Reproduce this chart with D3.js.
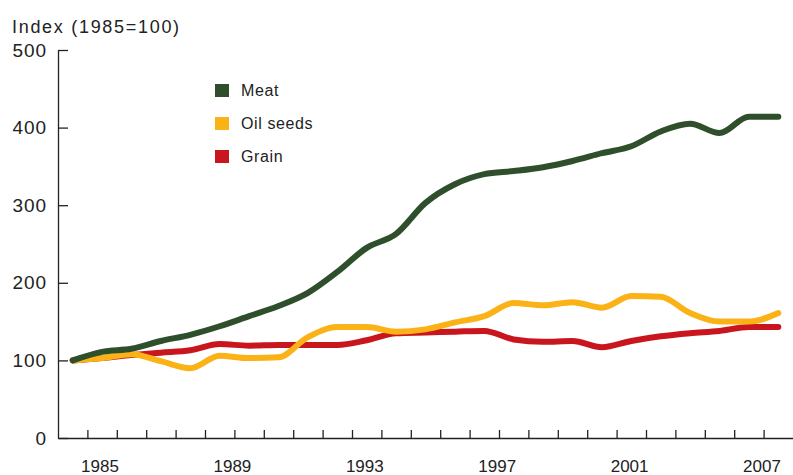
<!DOCTYPE html>
<html>
<head>
<meta charset="utf-8">
<script src="https://cdn.jsdelivr.net/npm/d3@7/dist/d3.min.js"></script>
<style>
  body { margin: 0; background: #fff; }
  svg { display: block; font-family: "Liberation Sans", Arial, sans-serif; }
</style>
</head>
<body>
<svg id="chart" width="793" height="475"></svg>
<script>
// annual index values, 1985 = 100
var years = [1984, 1985, 1986, 1987, 1988, 1989, 1990, 1991, 1992, 1993, 1994, 1995,
             1996, 1997, 1998, 1999, 2000, 2001, 2002, 2003, 2004, 2005, 2006, 2007, 2008];
var meat = [100, 111, 115, 125, 133, 144, 157, 170, 187, 214, 245, 263,
            303, 327, 340, 344, 349, 357, 367, 376, 395, 405, 393, 414, 414];
var oilSeeds = [100, 103, 108, 99, 90, 106, 103, 104, 130, 143, 143, 137,
                140, 149, 157, 174, 171, 175, 168, 183, 182, 161, 150, 150, 161];
var grain = [100, 103, 107, 110, 113, 121, 119, 120, 120, 120, 126, 135,
             136, 137, 138, 127, 124, 125, 117, 125, 131, 135, 138, 143, 143];

var yearLabels = ["1985", "1989", "1993", "1997", "2001", "2007"];
var yTicks = [0, 100, 200, 300, 400, 500];
var seriesNames = ["Meat", "Oil seeds", "Grain"];
var seriesColors = ["#2f4f2c", "#fbb216", "#c9161e"];

(function chart() {
    var svg = d3.select("#chart"),
        margin = {top: 50, right: 0, bottom: 37, left: 58},
        width = +svg.attr("width") - margin.left - margin.right,
        height = +svg.attr("height") - margin.top - margin.bottom,
        g = svg.append("g").attr("transform", "translate(" + margin.left + "," + margin.top + ")");

    var x = d3.scaleBand()
        .domain(years)
        .range([0, width]);

    // year boundaries, used for the tick marks between the points
    var xEdge = d3.scaleLinear()
        .domain([years[0] - 0.5, years[years.length - 1] + 0.5])
        .range([0, width]);

    var xLabel = d3.scalePoint()
        .domain(yearLabels)
        .range([42, 704]);

    var y = d3.scaleLinear()
        .domain([0, 500])
        .range([height, 0]);

    var line = d3.line()
        .x(function(d, i) { return x(years[i]) + x.bandwidth() / 2; })
        .y(function(d) { return y(d); })
        .curve(d3.curveMonotoneX);

    svg.append("text")
        .attr("x", 12)
        .attr("y", 33)
        .attr("font-size", 18)
        .attr("letter-spacing", 1.7)
        .attr("fill", "#222")
        .text("Index (1985=100)");

    // y axis
    var yAxis = g.append("g")
        .call(d3.axisLeft(y)
            .tickValues(yTicks)
            .tickSizeInner(-10)
            .tickSizeOuter(0)
            .tickPadding(11));
    yAxis.selectAll("text")
        .attr("font-size", 19)
        .attr("letter-spacing", 0.9)
        .attr("fill", "#222")
        .attr("font-family", null);
    yAxis.selectAll("line, path").attr("stroke", "#222").attr("stroke-width", 1.3);

    // x axis
    var xAxis = g.append("g")
        .attr("transform", "translate(0," + height + ")")
        .call(d3.axisBottom(xEdge)
            .tickValues(years.slice(1).map(function(d) { return d - 0.5; }))
            .tickSizeInner(-8)
            .tickSizeOuter(0)
            .tickFormat(""));
    xAxis.selectAll("line, path").attr("stroke", "#222").attr("stroke-width", 1.3);

    g.append("g")
        .selectAll("text")
        .data(yearLabels)
        .enter().append("text")
        .attr("x", function(d) { return xLabel(d); })
        .attr("y", height + 34)
        .attr("text-anchor", "middle")
        .attr("font-size", 17)
        .attr("fill", "#222")
        .text(function(d) { return d; });

    // lines, grain at the back and meat on top
    var series = [grain, oilSeeds, meat];
    var order = [2, 1, 0];
    g.selectAll(".series")
        .data(series)
        .enter().append("path")
        .attr("class", "series")
        .attr("fill", "none")
        .attr("stroke", function(d, i) { return seriesColors[order[i]]; })
        .attr("stroke-width", 6)
        .attr("stroke-linejoin", "round")
        .attr("stroke-linecap", "round")
        .attr("d", line);

    // legend
    var legend = svg.append("g")
        .attr("transform", "translate(215,84)");
    var item = legend.selectAll("g")
        .data(seriesNames)
        .enter().append("g")
        .attr("transform", function(d, i) { return "translate(0," + i * 33 + ")"; });
    item.append("rect")
        .attr("width", 14)
        .attr("height", 13)
        .attr("fill", function(d, i) { return seriesColors[i]; });
    item.append("text")
        .attr("x", 26)
        .attr("y", 12)
        .attr("font-size", 16)
        .attr("letter-spacing", 0.6)
        .attr("fill", "#222")
        .text(function(d) { return d; });
})();
</script>
</body>
</html>
